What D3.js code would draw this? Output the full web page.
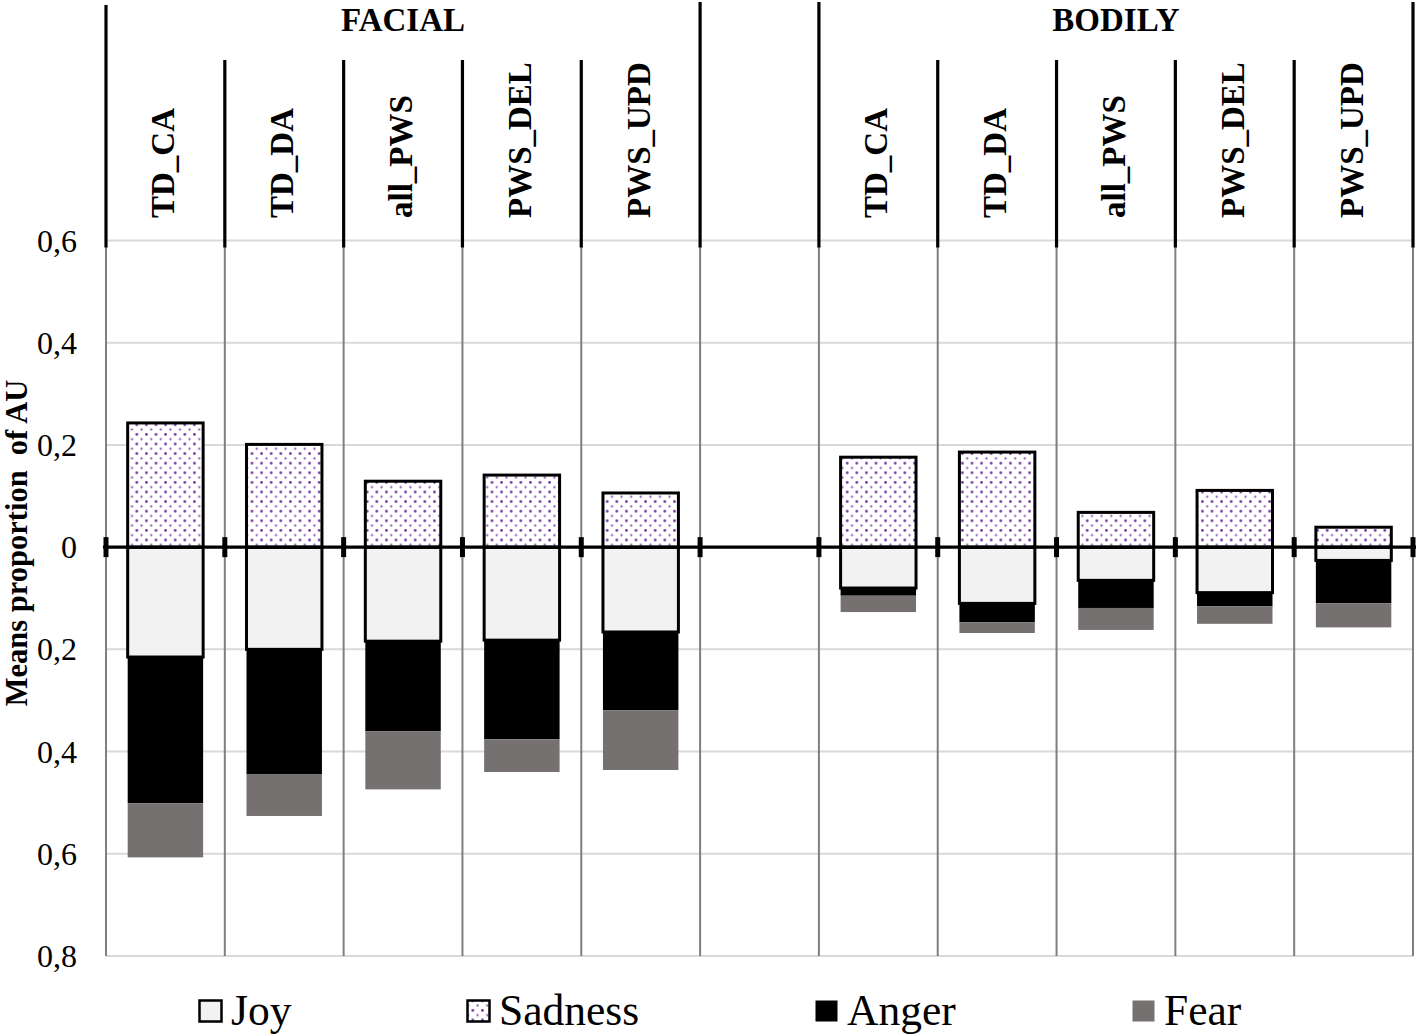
<!DOCTYPE html>
<html>
<head>
<meta charset="utf-8">
<script src="https://cdn.jsdelivr.net/npm/d3@7"></script>
<style>
  html, body { margin: 0; padding: 0; background: #fff; }
  svg { display: block; font-family: "Liberation Serif", "Times New Roman", serif; }
</style>
</head>
<body>
<svg id="chart" width="1418" height="1036"></svg>
<script>
// ---- Data ----
const groups = ["FACIAL", "BODILY"];
const categories = ["TD_CA", "TD_DA", "all_PWS", "PWS_DEL", "PWS_UPD"];
const seriesNames = ["Joy", "Sadness", "Anger", "Fear"];
// Sadness plotted upward, Joy/Anger/Fear stacked downward
const sadnessFacial = [0.243, 0.201, 0.129, 0.141, 0.106];
const joyFacial     = [0.215, 0.200, 0.184, 0.182, 0.166];
const angerFacial   = [0.286, 0.244, 0.176, 0.194, 0.153];
const fearFacial    = [0.106, 0.082, 0.114, 0.064, 0.117];
const sadnessBodily = [0.176, 0.186, 0.068, 0.111, 0.039];
const joyBodily     = [0.080, 0.110, 0.065, 0.089, 0.026];
const angerBodily   = [0.015, 0.037, 0.054, 0.027, 0.084];
const fearBodily    = [0.032, 0.021, 0.043, 0.034, 0.047];
const yTicks = [0.6, 0.4, 0.2, 0, -0.2, -0.4, -0.6, -0.8];
const yTitle = "Means proportion  of AU";

// ---- Build table ----
const rows = [];
groups.forEach((g, gi) => {
  categories.forEach((c, ci) => {
    const s = gi === 0 ? sadnessFacial : sadnessBodily;
    const j = gi === 0 ? joyFacial : joyBodily;
    const a = gi === 0 ? angerFacial : angerBodily;
    const f = gi === 0 ? fearFacial : fearBodily;
    rows.push({ key: g + "|" + c, group: g, cat: c, Sadness: s[ci], Joy: j[ci], Anger: a[ci], Fear: f[ci] });
  });
});
const slotKeys = [...categories.map(c => "FACIAL|" + c), "gap", ...categories.map(c => "BODILY|" + c)];

const svg = d3.select("#chart");
const left = 106, right = 1413, yTop = 240.5, yBottom = 956;
const x = d3.scaleBand().domain(slotKeys).range([left, right]).padding(0);
const y = d3.scaleLinear().domain([-0.8, 0.6]).range([yBottom, yTop]);
const bw = x.bandwidth() * 0.635;

const colors = { Joy: "#f2f2f2", Anger: "#000000", Fear: "#767171" };

// pattern for sadness
const defs = svg.append("defs");
const pat = defs.append("pattern").attr("id", "dots").attr("patternUnits", "userSpaceOnUse")
  .attr("width", 9.6).attr("height", 9.6);
pat.append("rect").attr("width", 9.6).attr("height", 9.6).attr("fill", "#fff");
pat.append("circle").attr("cx", 2.4).attr("cy", 2.4).attr("r", 1.35).attr("fill", "#7030a0");
pat.append("circle").attr("cx", 7.2).attr("cy", 7.2).attr("r", 1.1).attr("fill", "#7030a0").attr("opacity", 0.85);

// gridlines
svg.append("g").selectAll("line").data(yTicks).join("line")
  .attr("x1", left).attr("x2", right)
  .attr("y1", d => y(d)).attr("y2", d => y(d))
  .attr("stroke", "#d9d9d9").attr("stroke-width", 2);

// vertical separator lines in plot (gray)
const bounds = slotKeys.map(k => x(k)).concat([right]);
svg.append("g").selectAll("line").data(bounds).join("line")
  .attr("x1", d => d).attr("x2", d => d)
  .attr("y1", y(0.6) + 6).attr("y2", yBottom)
  .attr("stroke", "#7f7f7f").attr("stroke-width", 2);

// header lines (black)
const outer = [x("FACIAL|TD_CA"), x("gap"), x("BODILY|TD_CA"), right];
const inner = bounds.filter(b => !outer.some(o => Math.abs(o - b) < 1));
svg.append("g").selectAll("line").data(outer).join("line")
  .attr("x1", d => d).attr("x2", d => d)
  .attr("y1", (d, i) => i === 0 ? 5 : 2).attr("y2", y(0.6) + 7)
  .attr("stroke", "#000").attr("stroke-width", 3.2);
svg.append("g").selectAll("line").data(inner).join("line")
  .attr("x1", d => d).attr("x2", d => d)
  .attr("y1", 60).attr("y2", y(0.6) + 7)
  .attr("stroke", "#000").attr("stroke-width", 3.2);

// group labels
svg.append("g").selectAll("text").data(groups).join("text")
  .attr("x", g => {
    const a = x(g + "|" + categories[0]);
    const b = x(g + "|" + categories[categories.length - 1]) + x.bandwidth();
    return (a + b) / 2;
  })
  .attr("y", 31)
  .attr("text-anchor", "middle")
  .attr("font-weight", "bold").attr("font-size", 33)
  .text(g => g);

// category labels
svg.append("g").selectAll("text").data(rows).join("text")
  .attr("transform", d => `translate(${x(d.key) + x.bandwidth() / 2 + 9},218) rotate(-90)`)
  .attr("text-anchor", "start")
  .attr("font-weight", "bold").attr("font-size", 33)
  .text(d => d.cat);

// bars
const barG = svg.append("g");
rows.forEach(d => {
  const cx = x(d.key) + x.bandwidth() / 2;
  const x0 = cx - bw / 2;
  // negative stack: Joy, Anger, Fear
  let acc = 0;
  ["Joy", "Anger", "Fear"].forEach(s => {
    const v0 = acc, v1 = acc + d[s];
    acc = v1;
    barG.append("rect")
      .attr("x", x0).attr("width", bw)
      .attr("y", y(-v0)).attr("height", y(-v1) - y(-v0))
      .attr("fill", colors[s])
      .attr("stroke", s === "Joy" ? "#000" : "none")
      .attr("stroke-width", 3);
  });
  // positive: Sadness
  barG.append("rect")
    .attr("x", x0).attr("width", bw)
    .attr("y", y(d.Sadness)).attr("height", y(0) - y(d.Sadness))
    .attr("fill", "url(#dots)")
    .attr("stroke", "#000").attr("stroke-width", 3);
});

// zero line with ticks
svg.append("line").attr("x1", left - 3).attr("x2", right + 3)
  .attr("y1", y(0)).attr("y2", y(0))
  .attr("stroke", "#000").attr("stroke-width", 3.2);
svg.append("g").selectAll("line").data(bounds).join("line")
  .attr("x1", d => d).attr("x2", d => d)
  .attr("y1", y(0) - 10).attr("y2", y(0) + 10)
  .attr("stroke", "#000").attr("stroke-width", 5);

// y tick labels
svg.append("g").selectAll("text").data(yTicks).join("text")
  .attr("x", 77).attr("y", d => y(d) + 11)
  .attr("text-anchor", "end").attr("font-size", 32)
  .text(d => d === 0 ? "0" : Math.abs(d).toFixed(1).replace(".", ","));

// y title
svg.append("text")
  .attr("transform", "translate(27,543) rotate(-90)")
  .attr("text-anchor", "middle")
  .attr("font-weight", "bold").attr("font-size", 30.5)
  .attr("xml:space", "preserve").style("white-space", "pre")
  .text(yTitle);

// legend
const legendX = { Joy: 198, Sadness: 466, Anger: 814, Fear: 1131 };
const lg = svg.append("g");
seriesNames.forEach(s => {
  const lx = legendX[s];
  lg.append("rect").attr("x", lx + 1.5).attr("y", 1000.5).attr("width", 22).attr("height", 21)
    .attr("fill", s === "Sadness" ? "url(#dots)" : colors[s])
    .attr("stroke", (s === "Joy" || s === "Sadness") ? "#000" : "none")
    .attr("stroke-width", 2.5);
  lg.append("text").attr("x", lx + 33).attr("y", 1025)
    .attr("font-size", 43.5).text(s);
});
</script>
</body>
</html>
